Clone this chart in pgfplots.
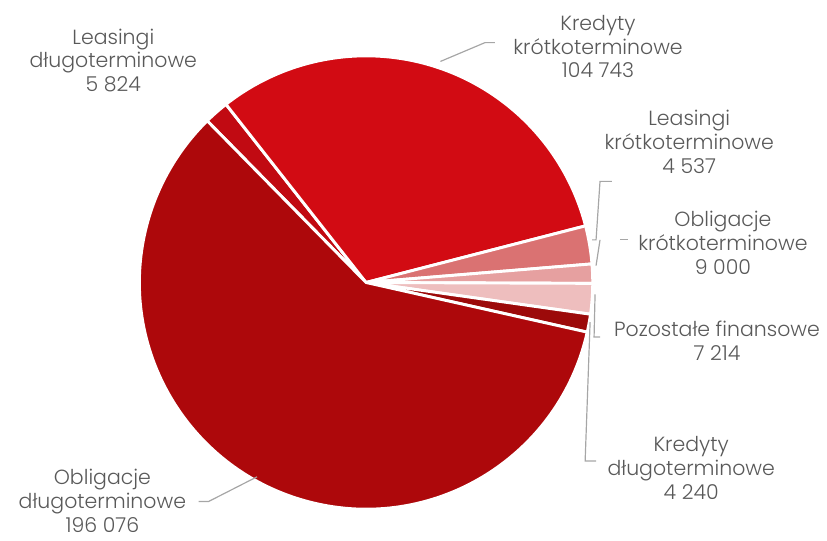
\documentclass[border=0pt]{standalone}
\usepackage{fontspec}
\setmainfont{Poppins}[UprightFont=* Light]
\usepackage{pgfplots}
\usepackage{pgfplotstable}
\pgfplotsset{compat=1.18}

\definecolor{lbl}{HTML}{595959}
\definecolor{ldr}{HTML}{A6A6A6}
\definecolor{c1}{HTML}{C10A12}
\definecolor{c2}{HTML}{D20B13}
\definecolor{c3}{HTML}{DA7272}
\definecolor{c4}{HTML}{E6A0A0}
\definecolor{c5}{HTML}{EEBEBE}
\definecolor{c6}{HTML}{9C0A0A}
\definecolor{c7}{HTML}{AD080B}

% slices clockwise, starting at the upper left
\pgfplotstableread{
value col
5824 c1
104743 c2
9000 c3
4537 c4
7214 c5
4240 c6
196076 c7
}\piedata

\begin{document}
\def\total{0}
\pgfplotsforeachungrouped \i in {0,...,6}{%
  \pgfplotstablegetelem{\i}{value}\of\piedata
  \edef\total{\fpeval{\total+\pgfplotsretval}}%
}
\begin{tikzpicture}[font=\fontsize{15.5}{18}\selectfont]
\begin{axis}[
    hide axis,
    x=0.75pt, y=0.75pt,
    xmin=-362, xmax=465,
    ymin=-263, ymax=282,
    enlargelimits=false,
    clip=false,
]
\def\ang{134.5}
\pgfplotsforeachungrouped \i in {0,...,6}{%
  \pgfplotstablegetelem{\i}{value}\of\piedata
  \edef\angb{\fpeval{\ang-360*\pgfplotsretval/\total}}%
  \pgfplotstablegetelem{\i}{col}\of\piedata
  \edef\temp{\noexpand\filldraw[fill=\pgfplotsretval, draw=white, line width=2.2pt, line join=round]
    (axis cs:0,-3) -- ++(\ang:171.5pt) arc[start angle=\ang, end angle=\angb, radius=171.5pt] -- cycle;}%
  \temp
  \let\ang\angb
}

% leader lines
\draw[ldr, line width=0.9pt] (axis cs:75,220) -- (axis cs:120,239) -- (axis cs:130,239);
\draw[ldr, line width=0.9pt] (axis cs:248,99) -- (axis cs:236,99) -- (axis cs:232,40) -- (axis cs:228,40);
\draw[ldr, line width=0.9pt] (axis cs:256,40) -- (axis cs:264,40);
\draw[ldr, line width=0.9pt] (axis cs:236,40) -- (axis cs:232,14);
\draw[ldr, line width=0.9pt] (axis cs:231,-15) -- (axis cs:230,-58) -- (axis cs:236,-58);
\draw[ldr, line width=0.9pt] (axis cs:226,-43) -- (axis cs:221,-183) -- (axis cs:232,-183);
\draw[ldr, line width=0.9pt] (axis cs:-169,-224) -- (axis cs:-159,-224) -- (axis cs:-110,-199);

% data labels
\node[lbl, align=center] at (axis cs:-255,221) {Leasingi\\długoterminowe\\5 824};
\node[lbl, align=center] at (axis cs:234,235) {Kredyty\\krótkoterminowe\\104 743};
\node[lbl, align=center] at (axis cs:326,139) {Leasingi\\krótkoterminowe\\4 537};
\node[lbl, align=center] at (axis cs:360,37) {Obligacje\\krótkoterminowe\\9 000};
\node[lbl, align=center] at (axis cs:354,-62) {Pozostałe finansowe\\7 214};
\node[lbl, align=center] at (axis cs:328,-190) {Kredyty\\długoterminowe\\4 240};
\node[lbl, align=center] at (axis cs:-266,-223) {Obligacje\\długoterminowe\\196 076};
\end{axis}
\pgfresetboundingbox
\path[use as bounding box] (current axis.south west) rectangle (current axis.north east);
\end{tikzpicture}
\end{document}
